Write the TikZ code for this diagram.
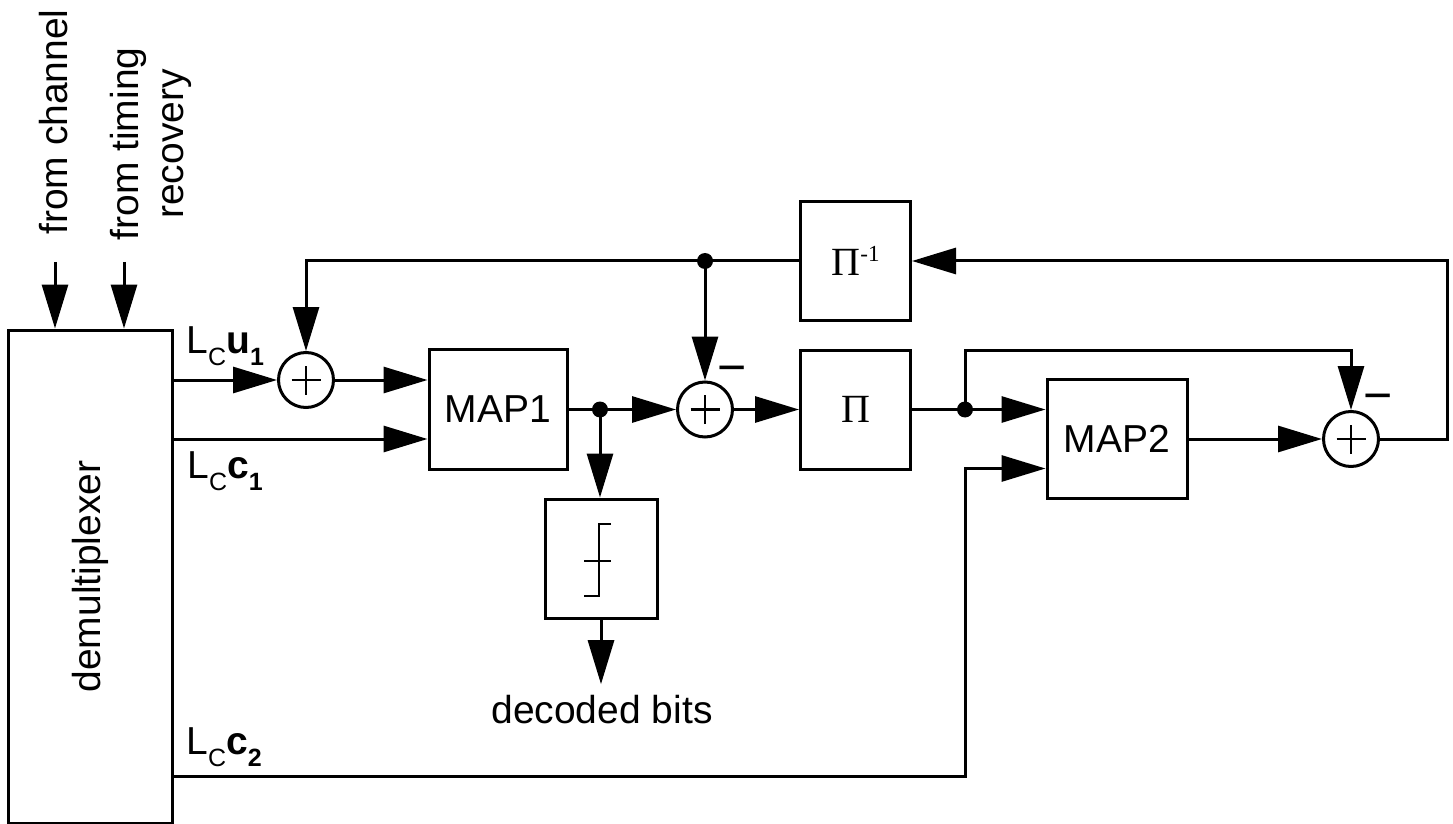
\documentclass[tikz,border=0pt]{standalone}
\usepackage{fontspec}
\setmainfont{Liberation Sans}
\newfontfamily\piserif{Liberation Serif}
\usetikzlibrary{arrows.meta,calc}
\newcommand{\subtxt}[1]{\raisebox{-6pt}{\fontsize{12.5pt}{13pt}\selectfont #1}}
\newcommand{\suptxt}[1]{\raisebox{7pt}{\fontsize{11.5pt}{12pt}\selectfont #1}}
\begin{document}
\begin{tikzpicture}[x=0.5pt,y=-0.5pt,
  line width=1.5pt,
  every node/.style={font=\fontsize{19.5pt}{22.5pt}\selectfont},
  arr/.style={-{Triangle[length=22pt,width=13pt]}},
  blk/.style={draw,rectangle,inner sep=0pt},
  sumnode/.style={draw,circle,minimum size=27.5pt,inner sep=0pt,
     path picture={
       \draw[line width=1.3pt] ([xshift=-7.25pt]path picture bounding box.center) -- ([xshift=7.25pt]path picture bounding box.center);
       \draw[line width=1.3pt] ([yshift=-7.25pt]path picture bounding box.center) -- ([yshift=7.25pt]path picture bounding box.center);}},
  dot/.style={circle,fill,minimum size=8pt,inner sep=0pt},
  lbl/.style={inner sep=0pt,anchor=base west},
  minus/.style={inner sep=0pt,anchor=base,font=\fontsize{25pt}{25pt}\selectfont},
  pifont/.style={font=\piserif\fontsize{20pt}{22pt}\selectfont}
]
\useasboundingbox (0,0) rectangle (1453,824);

% blocks
\node[blk,minimum width=82pt,minimum height=246.5pt] (demux) at (90,576.5) {};
\node[rotate=90] (demuxlbl) at (demux.center) {demultiplexer};
\node[rotate=90] (fromch) at (54,122) {from channel};
\node[rotate=90,align=center] (fromtr) at (151,144) {from timing\\recovery};

\node[sumnode] (s1) at (306,380) {};
\node[blk,minimum width=69pt,minimum height=60pt] (map1) at (498,409.5) {MAP1};
\node[dot] (d2) at (600,409.5) {};
\node[sumnode] (s2) at (705,409.5) {};
\node[blk,pifont,minimum width=55pt,minimum height=59.5pt] (pi) at (855.5,409.5) {Π};
\node[blk,pifont,minimum width=55pt,minimum height=59pt] (pinv) at (855.5,261) {Π\suptxt{-1}};
\node[dot] (d1) at (705,261) {};
\node[dot] (d3) at (965,409.5) {};
\node[blk,minimum width=70pt,minimum height=59.5pt] (map2) at (1117,439) {MAP2};
\node[sumnode] (s3) at (1351,439) {};
\node[blk,minimum width=56pt,minimum height=59.5pt] (hd) at (601,558.5) {};
\node[inner sep=5pt] (db) at (602,710) {decoded bits};

% hard decision symbol
\draw[line width=1pt] ($(hd.center)+(10,-34.5)$) -- ++(-12,0) -- ++(0,72) -- ++(-15,0);
\draw[line width=1pt] ($(hd.center)+(-17,2.5)$) -- ++(27,0);

% labels
\node[lbl] (lu1) at (185,353) {L\subtxt{C}\textbf{u\subtxt{1}}};
\node[lbl] (lc1) at (186,478) {L\subtxt{C}\textbf{c\subtxt{1}}};
\node[lbl] (lc2) at (185,754) {L\subtxt{C}\textbf{c\subtxt{2}}};
\node[minus] (ms2) at (732,384) {−};
\node[minus] (ms3) at (1378,412) {−};

% inputs from top
\coordinate (ch) at (55,262);
\coordinate (tr) at (124,262);
\draw[arr] (ch) -- (ch |- demux.north);
\draw[arr] (tr) -- (tr |- demux.north);

% connectors
\draw[arr] (demux.east |- s1.west) -- (s1.west);
\draw[arr] (s1.east) -- (s1.east -| map1.west);
\coordinate (m1b) at ($(map1.west)+(0,29.5)$);
\draw[arr] (demux.east |- m1b) -- (m1b);
\draw[arr] (map1.east) -- (s2.west);
\draw[arr] (d2.center) -- (d2.center |- hd.north);
\draw[arr] (hd.south) -- (hd.south |- db.north);
\draw[arr] (s2.east) -- (pi.west);
\draw[arr] (pi.east) -- (pi.east -| map2.west);
\coordinate (m2b) at ($(map2.west)+(0,29.5)$);
\coordinate (c2r) at (965,776);
\draw[arr] (demux.east |- c2r) -- (c2r) |- (m2b);
\draw[arr] (map2.east) -- (s3.west);
\coordinate (fbr) at (1447,261);
\draw[arr] (s3.east) -| (fbr) -- (pinv.east);
\draw[arr] (pinv.west) -| (s1.north);
\draw[arr] (d1.center) -- (s2.north);
\coordinate (t3) at (965,350);
\draw[arr] (d3.center) -- (t3) -| (s3.north);
\end{tikzpicture}
\end{document}
